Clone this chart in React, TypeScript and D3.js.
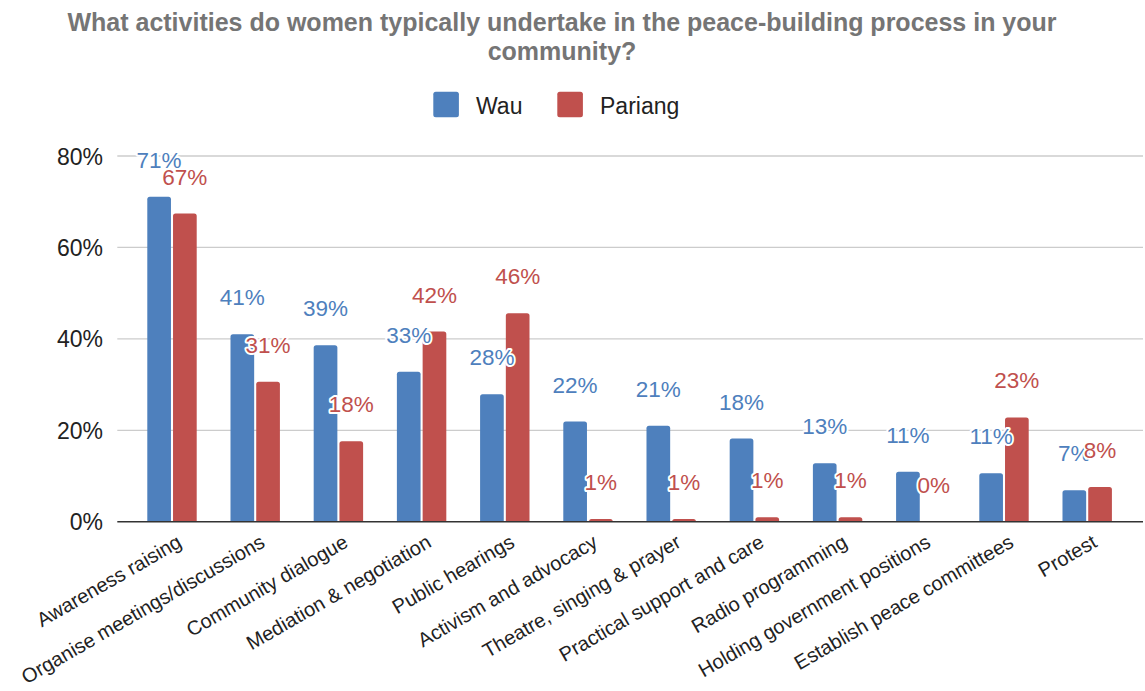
import React from "react";
import * as d3 from "d3";

const categories = [
  "Awareness raising",
  "Organise meetings/discussions",
  "Community dialogue",
  "Mediation & negotiation",
  "Public hearings",
  "Activism and advocacy",
  "Theatre, singing & prayer",
  "Practical support and care",
  "Radio programming",
  "Holding government positions",
  "Establish peace committees",
  "Protest",
];
const seriesNames = ["Wau", "Pariang"];
const wauValues = [71.1, 41.0, 38.6, 32.8, 27.9, 21.9, 21.0, 18.2, 12.8, 10.9, 10.6, 6.9];
const pariangValues = [67.4, 30.6, 17.6, 41.6, 45.6, 0.6, 0.6, 1.0, 1.0, 0, 22.8, 7.6];
const yTicks = [0, 20, 40, 60, 80];
const titleLines = [
  "What activities do women typically undertake in the peace-building process in your",
  "community?",
];

const W = 1145;
const H = 691;
const colors = ["#4e80bd", "#c0504d"];
const FONT = "Arial, 'Liberation Sans', sans-serif";

function barPath(x: number, y: number, w: number, h: number, r: number) {
  if (h <= 0) return "";
  const rr = Math.min(r, h, w / 2);
  return `M${x},${y + h}V${y + rr}Q${x},${y} ${x + rr},${y}H${x + w - rr}Q${x + w},${y} ${x + w},${y + rr}V${y + h}Z`;
}

export default function App() {
  const x0 = d3
    .scaleBand<string>()
    .domain(categories)
    .range([130.4, 1128.8])
    .paddingInner(0.406)
    .paddingOuter(0.203);
  const x1 = d3
    .scaleBand<string>()
    .domain(seriesNames)
    .range([0, x0.bandwidth()])
    .paddingInner(0.08);
  const y = d3.scaleLinear().domain([0, 80]).range([521.7, 156]);
  const fmt = (v: number) => d3.format(".0f")(v) + "%";
  const series = [wauValues, pariangValues];

  return (
    <div style={{ position: "absolute", left: 0, top: 0 }}>
      <svg width={W} height={H} style={{ display: "block", background: "#fff" }}>
        <rect x={0} y={0} width={W} height={H} fill="#fff" />
        {titleLines.map((t, i) => (
          <text
            key={i}
            x={562}
            y={31 + i * 29}
            textAnchor="middle"
            fontFamily={FONT}
            fontWeight={700}
            fontSize={25}
            fill="#757575"
          >
            {t}
          </text>
        ))}
        {seriesNames.map((s, i) => {
          const lx = i === 0 ? 433.3 : 557.3;
          return (
            <g key={s}>
              <rect x={lx} y={91.7} width={25.6} height={25.6} rx={2.5} fill={colors[i]} />
              <text x={lx + 42.7} y={114.3} fontFamily={FONT} fontSize={23} fill="#222">
                {s}
              </text>
            </g>
          );
        })}
        {yTicks.map((t) => (
          <g key={t}>
            {t !== 0 && (
              <line x1={117.3} x2={1143} y1={y(t)} y2={y(t)} stroke="#cccccc" strokeWidth={1.3} />
            )}
            <text
              x={103}
              y={y(t) + 8.5}
              textAnchor="end"
              fontFamily={FONT}
              fontSize={23}
              fill="#222"
            >
              {t}%
            </text>
          </g>
        ))}
        {categories.map((c, ci) =>
          series.map((vals, si) => {
            const bx = (x0(c) as number) + (x1(seriesNames[si]) as number);
            const by = y(vals[ci]);
            return (
              <path
                key={c + si}
                d={barPath(bx, by, x1.bandwidth(), y(0) - by, 2.5)}
                fill={colors[si]}
              />
            );
          })
        )}
        <line x1={117.3} x2={1143} y1={y(0)} y2={y(0)} stroke="#333" strokeWidth={1.5} />
        {categories.map((c, ci) =>
          series.map((vals, si) => {
            const cx = (x0(c) as number) + (x1(seriesNames[si]) as number) + x1.bandwidth() / 2;
            return (
              <text
                key={"l" + c + si}
                x={cx}
                y={y(vals[ci]) - 29}
                textAnchor="middle"
                fontFamily={FONT}
                fontSize={22.5}
                fill={colors[si]}
                stroke="#fff"
                strokeWidth={4}
                strokeLinejoin="round"
                style={{ paintOrder: "stroke" }}
              >
                {fmt(vals[ci])}
              </text>
            );
          })
        )}
        {categories.map((c) => {
          const cx = (x0(c) as number) + x0.bandwidth() / 2 + 11;
          const cy = 546;
          return (
            <text
              key={"c" + c}
              transform={`translate(${cx},${cy}) rotate(-30)`}
              textAnchor="end"
              fontFamily={FONT}
              fontSize={20}
              fill="#222"
            >
              {c}
            </text>
          );
        })}
      </svg>
    </div>
  );
}
